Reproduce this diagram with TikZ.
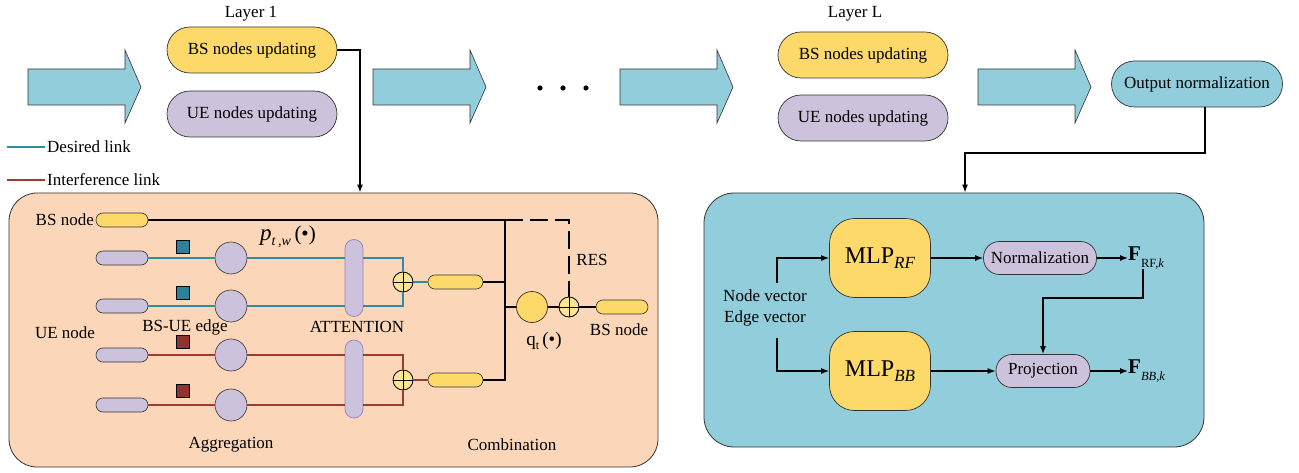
\documentclass[tikz,border=0pt]{standalone}
\usepackage{fontspec}
\setmainfont{Liberation Serif}
\usetikzlibrary{arrows.meta,calc}
\definecolor{yfill}{RGB}{253,217,106}
\definecolor{lav}{RGB}{204,194,220}
\definecolor{lavdraw}{RGB}{150,130,190}
\definecolor{tealfill}{RGB}{146,205,220}
\definecolor{peach}{RGB}{251,214,184}
\definecolor{desc}{RGB}{49,140,162}
\definecolor{intc}{RGB}{158,60,52}
\definecolor{sqteal}{RGB}{45,130,150}
\definecolor{sqred}{RGB}{140,52,45}
\definecolor{oplus}{RGB}{252,228,150}
\newcommand\blockarrow[1]{\draw[barrow] (#1,69) -- (#1+97,69) -- (#1+97,50) -- (#1+113,87) -- (#1+97,123) -- (#1+97,105) -- (#1,105) -- cycle;}
\begin{document}
\begin{tikzpicture}[x=1pt,y=-1pt,
  every node/.style={font=\fontsize{17}{20.5}\selectfont, inner sep=0pt},
  barrow/.style={draw=black!80, fill=tealfill, line width=0.6pt},
  layerbs/.style={draw=black!80, fill=yfill, rounded corners=23pt, minimum width=170pt, minimum height=46pt, line width=0.7pt},
  layerue/.style={draw=black!80, fill=lav, rounded corners=23pt, minimum width=170pt, minimum height=46pt, line width=0.7pt},
  ypill/.style={draw=black!80, fill=yfill, rounded corners=7pt, minimum width=52pt, minimum height=14pt, line width=0.6pt},
  upill/.style={draw=black!80, fill=lav, rounded corners=7pt, minimum width=52pt, minimum height=14pt, line width=0.6pt},
  sqt/.style={draw=black, fill=sqteal, minimum size=13pt, line width=0.5pt},
  sqr/.style={draw=black, fill=sqred, minimum size=13pt, line width=0.5pt},
  aggc/.style={circle, draw=black!80, fill=lav, minimum size=32pt, line width=0.6pt},
  attn/.style={draw=lavdraw, fill=lav, rounded corners=9pt, minimum width=18pt, line width=0.7pt},
  opl/.style={circle, draw=black, fill=oplus, minimum size=20pt, line width=0.8pt,
    path picture={\draw[line width=0.8pt] (path picture bounding box.north) -- (path picture bounding box.south)
      (path picture bounding box.west) -- (path picture bounding box.east);}},
  blk/.style={draw=black, line width=1.3pt},
  desired/.style={draw=desc, line width=1.1pt},
  interf/.style={draw=intc, line width=1.1pt},
  conn/.style={draw=black, line width=1.3pt, -{Latex[length=8pt,width=6pt]}},
  mlp/.style={draw=black!80, fill=yfill, rounded corners=25pt, minimum width=101pt, minimum height=79pt, line width=0.7pt},
  rpill/.style={draw=black!80, fill=lav, rounded corners=16pt, minimum height=33pt, line width=0.7pt}
]
\path[use as bounding box] (0,0) rectangle (1299,473);

% top row
\blockarrow{28}
\blockarrow{373}
\blockarrow{620}
\blockarrow{978}
\fill (540,88) circle (2.6pt) (563,88) circle (2.6pt) (586,88) circle (2.6pt);

\node (lay1) at (251,14) {Layer 1};
\node[layerbs] (bs1) at (252,50) {BS nodes updating};
\node[layerue] (ue1) at (252,114) {UE nodes updating};
\node (layL) at (855,14) {Layer L};
\node[layerbs] (bsL) at (863,55) {BS nodes updating};
\node[layerue] (ueL) at (863,118) {UE nodes updating};
\node[draw=black!80, fill=tealfill, rounded corners=23pt, minimum width=171pt, minimum height=46pt, line width=0.7pt] (on) at (1197,84) {Output normalization};

% legend
\coordinate (d0) at (7,147); \coordinate (d1) at (45,147);
\coordinate (i0) at (7,180); \coordinate (i1) at (45,180);
\draw[desired] (d0) -- (d1);
\draw[interf] (i0) -- (i1);
\node[anchor=west] (dl) at (47,147) {Desired link};
\node[anchor=west] (il) at (47,180) {Interference link};

% panels
\node[draw=black!80, fill=peach, rounded corners=28pt, minimum width=649pt, minimum height=274pt, line width=0.8pt] (pL) at (333.5,330) {};
\node[draw=black!80, fill=tealfill, rounded corners=30pt, minimum width=500pt, minimum height=254pt, line width=0.8pt] (pR) at (954,320) {};

\coordinate (c1) at (360,0);
\draw[conn] (bs1.east) -| (pL.north -| c1);
\coordinate (c2) at (1205,0);
\coordinate (c3) at (965,153);
\draw[conn] (on.south -| c2) |- (c3) -- (pR.north -| c3);

% left panel content
\node[ypill] (bsA) at (122,220) {};
\node[anchor=east] (bsAl) at (94,220) {BS node};
\node[upill] (u1) at (122,258) {};
\node[upill] (u2) at (122,306) {};
\node[upill] (u3) at (122,355) {};
\node[upill] (u4) at (122,405) {};
\node[sqt] (s1) at (182.5,247) {};
\node[sqt] (s2) at (182.5,293) {};
\node[sqr] (s3) at (182.5,342) {};
\node[sqr] (s4) at (182.5,391) {};
\node[aggc] (a1) at (231,258) {};
\node[aggc] (a2) at (231,306) {};
\node[aggc] (a3) at (231,355) {};
\node[aggc] (a4) at (231,405) {};
\node[attn, minimum height=77pt] (t1) at (354,278) {};
\node[attn, minimum height=78pt] (t2) at (354,379) {};
\node[opl] (o1) at (403,282) {};
\node[opl] (o2) at (403,380) {};
\node[ypill, minimum width=55pt] (y1) at (455.5,282) {};
\node[ypill, minimum width=55pt] (y2) at (455.5,380) {};
\node[circle, draw=black!80, fill=yfill, minimum size=31pt, line width=0.7pt] (qc) at (532,307) {};
\node[opl] (o3) at (569,307) {};
\node[ypill] (bsO) at (622,307) {};

\draw[desired] (u1.east) -- (a1.west) (a1.east) -- (t1.west |- a1);
\draw[desired] (u2.east) -- (a2.west) (a2.east) -- (t1.west |- a2);
\draw[interf] (u3.east) -- (a3.west) (a3.east) -- (t2.west |- a3);
\draw[interf] (u4.east) -- (a4.west) (a4.east) -- (t2.west |- a4);
\draw[desired] (t1.east |- a1) -| (o1.north);
\draw[desired] (t1.east |- a2) -| (o1.south);
\draw[desired] (o1.east) -- (y1.west);
\draw[interf] (t2.east |- a3) -| (o2.north);
\draw[interf] (t2.east |- a4) -| (o2.south);
\draw[interf] (o2.east) -- (y2.west);

\coordinate (jt) at (505,220);
\draw[blk] (bsA.east) -- (jt) -- (y2.east -| jt) -- (y2.east);
\draw[blk] (y1.east) -- (y1.east -| jt);
\draw[blk] (qc.west -| jt) -- (qc.west);
\draw[blk] (qc.east) -- (o3.west);
\draw[blk] (o3.east) -- (bsO.west);
\draw[draw=black, line width=1.3pt, dash pattern=on 18pt off 7pt] (jt) -| (o3.north);

\node (plab) at (288,237) {{\fontsize{23}{23}\selectfont\textit{p}}\raisebox{-0.7ex}{\fontsize{14}{14}\selectfont\textit{t}\,,\textit{w}}{\fontsize{21}{21}\selectfont\,(•)}};
\node (uel) at (65,333) {UE node};
\node (bsue) at (185,327) {BS-UE edge};
\node (attl) at (357,327) {ATTENTION};
\node (aggl) at (231,445) {Aggregation};
\node (coml) at (512,445) {Combination};
\node (resl) at (592,260) {RES};
\node (ql) at (544,341) {{\fontsize{19}{19}\selectfont q}\raisebox{-0.5ex}{\fontsize{12}{12}\selectfont t}{\fontsize{19}{19}\selectfont\,(•)}};
\node (bsOl) at (619,330) {BS node};

% right panel content
\node[mlp] (m1) at (880,258) {{\fontsize{24}{24}\selectfont MLP}\raisebox{-0.6ex}{\fontsize{17}{17}\selectfont\textit{RF}}};
\node[mlp] (m2) at (880,371) {{\fontsize{24}{24}\selectfont MLP}\raisebox{-0.6ex}{\fontsize{17}{17}\selectfont\textit{BB}}};
\node[rpill, minimum width=113pt] (nm) at (1040,258) {Normalization};
\node[rpill, minimum width=94pt] (pj) at (1043,371) {Projection};
\node[anchor=west] (frf) at (1128,258) {{\fontsize{21}{21}\selectfont\bfseries F}\raisebox{-0.8ex}{\fontsize{12.5}{12.5}\selectfont RF,\textit{k}}};
\node[anchor=west] (fbb) at (1128,371) {{\fontsize{21}{21}\selectfont\bfseries F}\raisebox{-0.8ex}{\fontsize{12.5}{12.5}\selectfont\textit{BB},\textit{k}}};
\node[align=center] (nv) at (765,308) {Node vector\\Edge vector};
\coordinate (nvt) at (777,283);
\coordinate (nvb) at (777,338);
\draw[conn] (nvt) |- (m1.west);
\draw[conn] (nvb) |- (m2.west);
\draw[conn] (m1.east) -- (nm.west);
\draw[conn] (nm.east) -- (frf.west);
\draw[conn] (m2.east) -- (pj.west);
\draw[conn] (pj.east) -- (fbb.west);
\coordinate (c4) at (1143,298);
\draw[conn] (frf.south -| c4) -- (c4) -| (pj.north);
\end{tikzpicture}
\end{document}
